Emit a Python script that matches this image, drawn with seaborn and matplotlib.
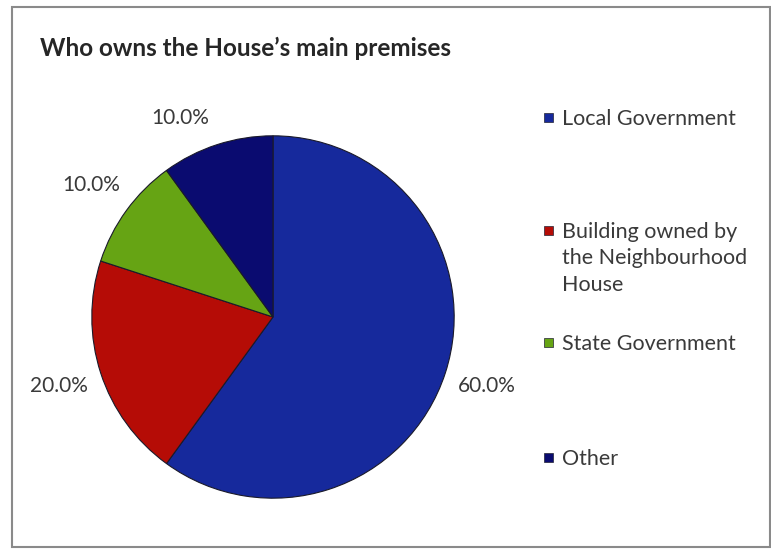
import matplotlib
matplotlib.use("Agg")
import matplotlib.pyplot as plt
import seaborn as sns
from matplotlib.patches import Rectangle

categories = ["Local Government",
              "Building owned by\nthe Neighbourhood\nHouse",
              "State Government",
              "Other"]
shares = [60.0, 20.0, 10.0, 10.0]
colors = ["#16299c", "#b50c06", "#66a414", "#0a0b70"]

W, H = 771, 553

sns.set_theme(style="white")
plt.rcParams['font.family'] = ['Lato', 'DejaVu Sans']

fig = plt.figure(figsize=(W / 100, H / 100), dpi=100)
fig.patch.set_facecolor("white")

# chart frame
fig.patches.append(Rectangle((12 / W, 6 / H), 758 / W, 540 / H,
                             transform=fig.transFigure, fill=False,
                             edgecolor="#8a8a8a", linewidth=1.5))

ax = fig.add_axes([90 / W, 53 / H, 366 / W, 366 / H])
wedges, texts, autotexts = ax.pie(
    shares, colors=colors, startangle=90, counterclock=False,
    autopct="%.1f%%", pctdistance=1.24, radius=1,
    wedgeprops=dict(edgecolor="#1a1a2a", linewidth=0.8),
    textprops=dict(fontsize=15, color="#3a3a3a"))
# the label of the last slice sits a little further left in the original
x, y = autotexts[3].get_position()
autotexts[3].set_position((x - 0.13, y - 0.08))
ax.set_xlim(-1.01, 1.01)
ax.set_ylim(-1.01, 1.01)
ax.set_aspect("equal")
ax.axis("off")

fig.text(40 / W, 1 - 48 / H, "Who owns the House\u2019s main premises",
         fontsize=17.5, fontweight="bold", color="#262626", va="center")

# legend on the right, square marker beside the first line of each entry
legend_y = [117, 230, 342, 457]
for label, col, y in zip(categories, colors, legend_y):
    fig.patches.append(Rectangle((544 / W, 1 - (y + 5) / H), 9 / W, 9 / H,
                                 transform=fig.transFigure, facecolor=col,
                                 edgecolor="#222233", linewidth=0.5))
    fig.text(562 / W, 1 - (y - 8) / H, label, fontsize=15.5,
             color="#3a3a3a", va="top", ha="left", linespacing=1.4)

fig.savefig("out.png", dpi=100, facecolor="white")
